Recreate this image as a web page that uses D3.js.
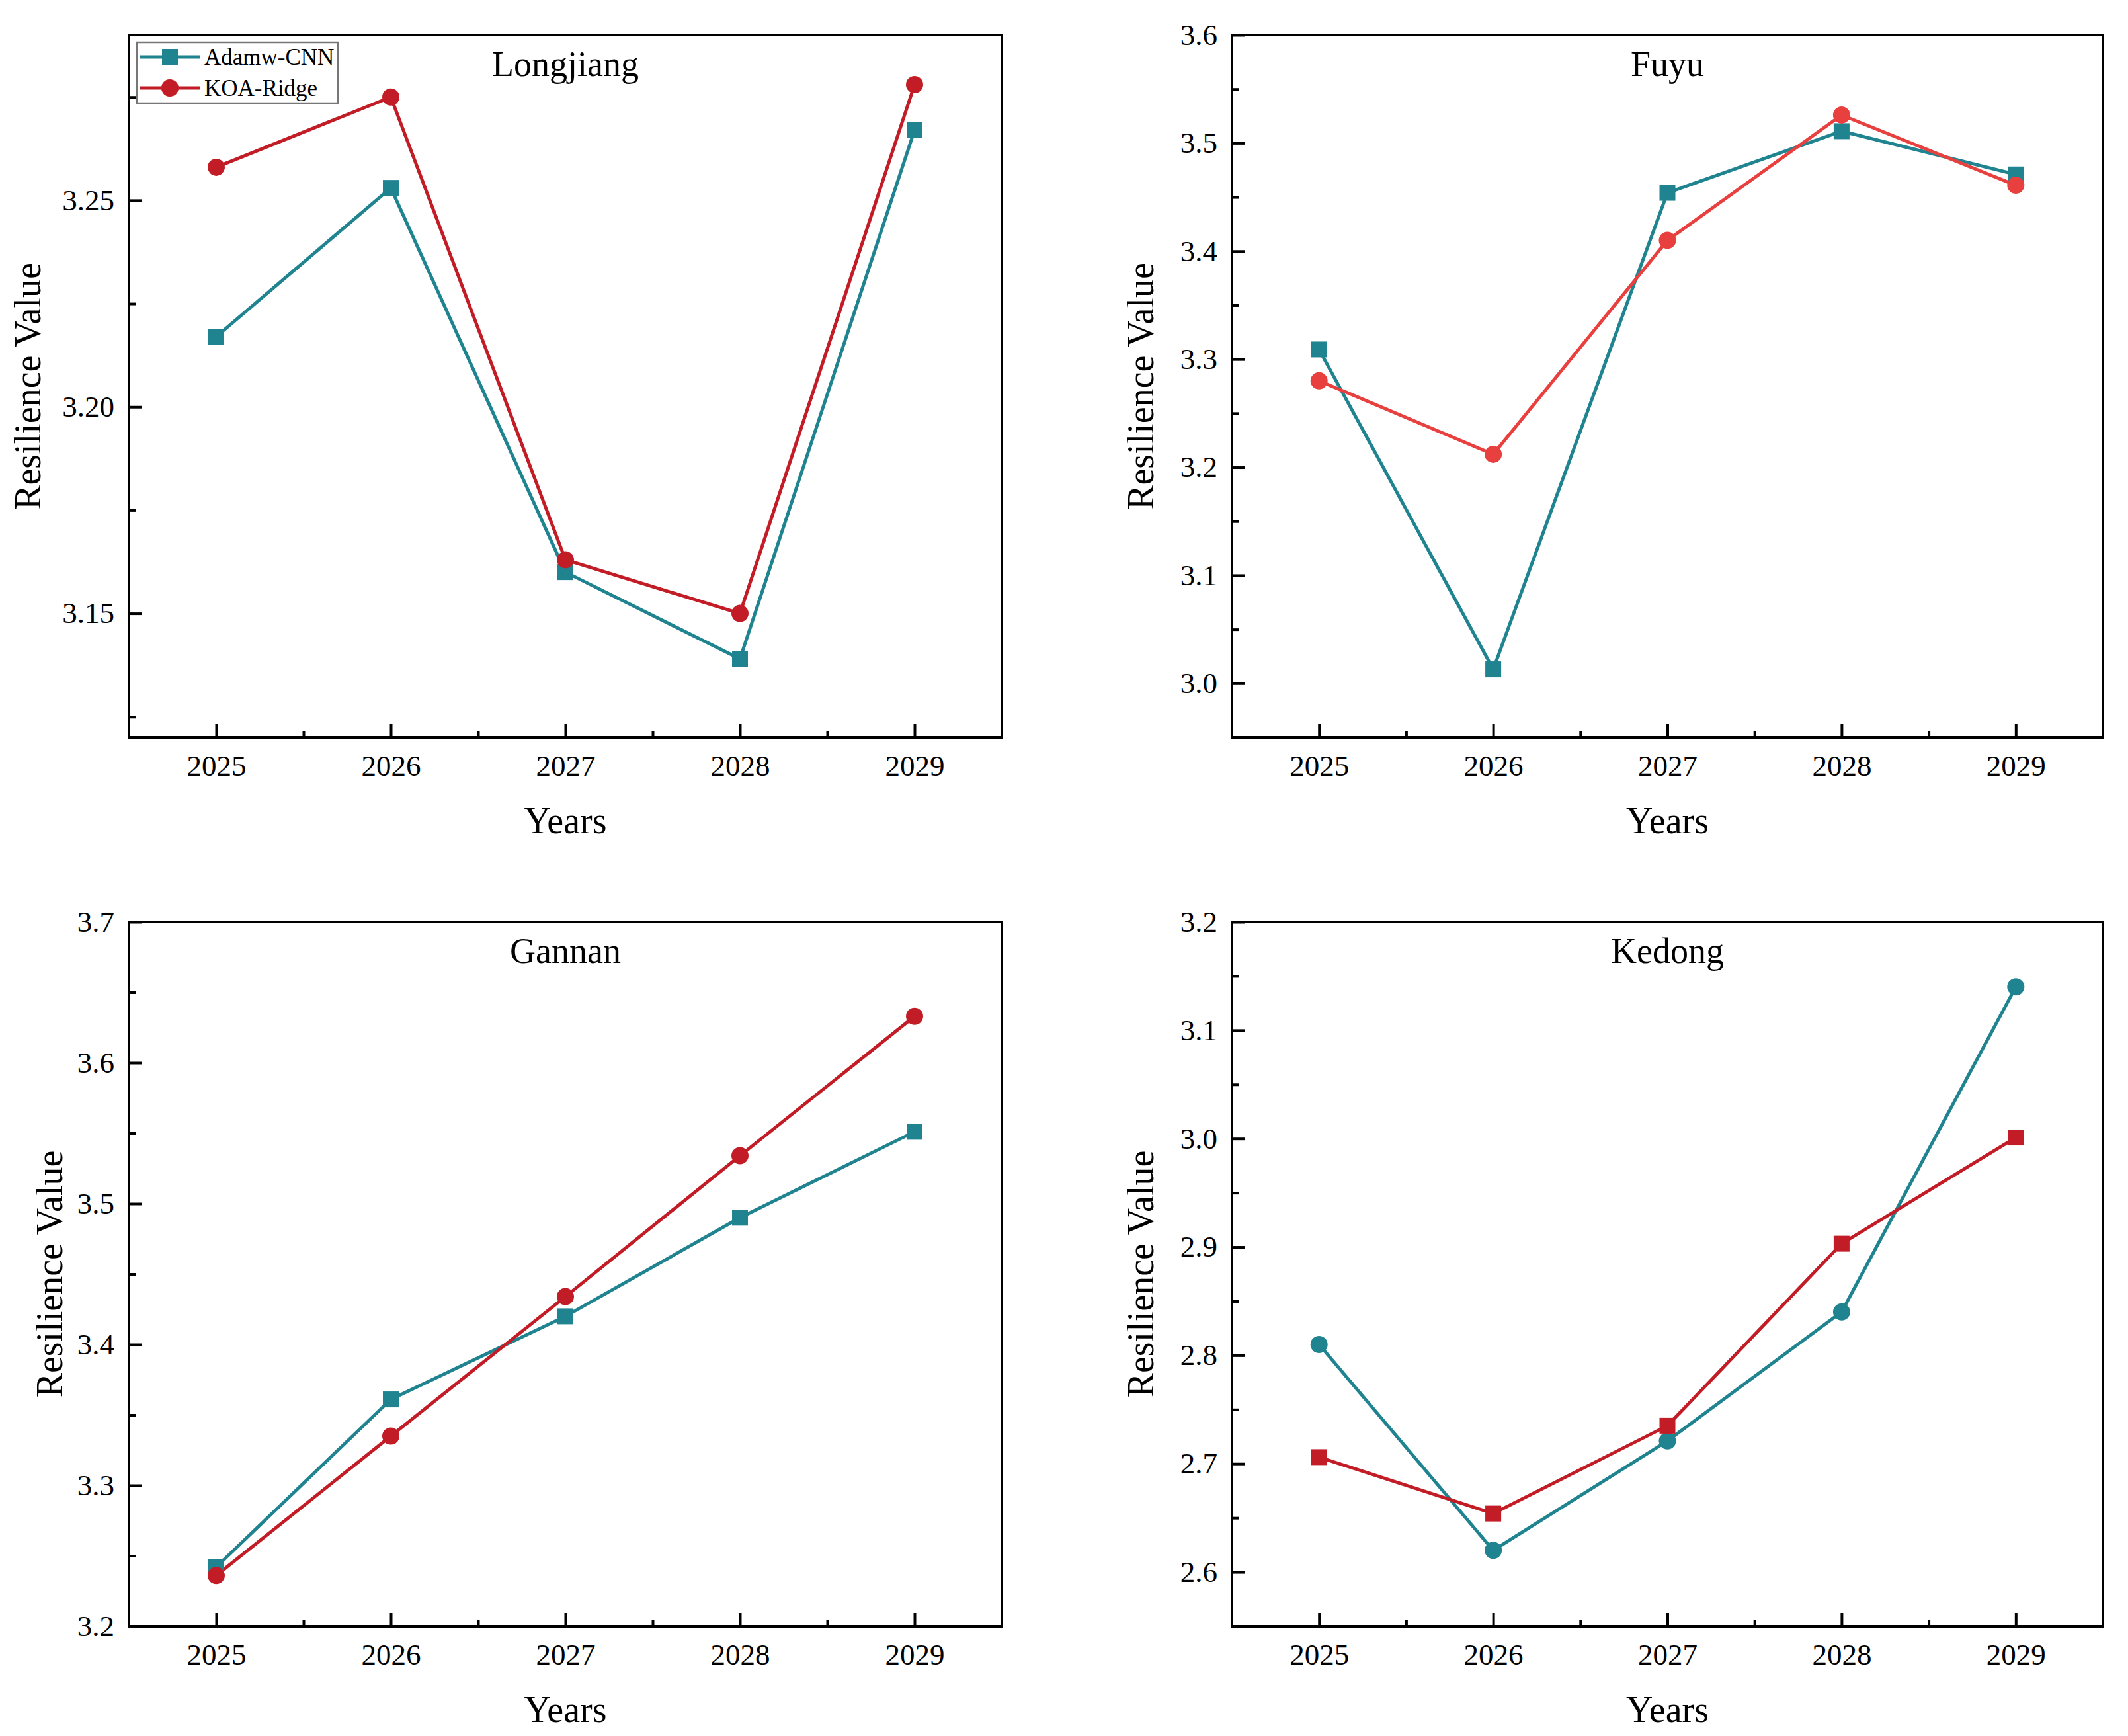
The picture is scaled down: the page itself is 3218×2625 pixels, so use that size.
<!DOCTYPE html>
<html><head><meta charset="utf-8">
<script src="https://cdn.jsdelivr.net/npm/d3@7"></script>
<style>html,body{margin:0;padding:0;background:#fff;}svg{display:block;} text{font-family:'Liberation Serif','Times New Roman',serif !important;}</style>
</head><body>
<script>
const years = [2025, 2026, 2027, 2028, 2029];
const seriesNames = ["Adamw-CNN", "KOA-Ridge"];
const panelNames = ["Longjiang", "Fuyu", "Gannan", "Kedong"];

const longjiangAdamw = [3.217, 3.253, 3.160, 3.139, 3.267];
const longjiangKoa   = [3.258, 3.275, 3.163, 3.150, 3.278];
const fuyuAdamw      = [3.309, 3.013, 3.454, 3.511, 3.471];
const fuyuKoa        = [3.280, 3.212, 3.410, 3.526, 3.461];
const gannanAdamw    = [3.242, 3.361, 3.420, 3.490, 3.551];
const gannanKoa      = [3.236, 3.335, 3.434, 3.534, 3.633];
const kedongAdamw    = [2.810, 2.620, 2.721, 2.840, 3.140];
const kedongKoa      = [2.706, 2.654, 2.735, 2.903, 3.001];

const longjiangTicks = [3.15, 3.20, 3.25];
const fuyuTicks      = [3.0, 3.1, 3.2, 3.3, 3.4, 3.5, 3.6];
const gannanTicks    = [3.2, 3.3, 3.4, 3.5, 3.6, 3.7];
const kedongTicks    = [2.6, 2.7, 2.8, 2.9, 3.0, 3.1, 3.2];

const longjiangDomain = [3.12, 3.29];
const fuyuDomain      = [2.95, 3.6];
const gannanDomain    = [3.2, 3.7];
const kedongDomain    = [2.55, 3.2];

// ---- styling / layout ----
const W = 3218, H = 2625;
const TEAL = "#1f8490", RED = "#c21d26", LIGHTRED = "#e8403e";
const FONT = "'Liberation Serif','Times New Roman',serif";

const panels = [
  {name: panelNames[0], a: longjiangAdamw, k: longjiangKoa, ticks: longjiangTicks, dom: longjiangDomain, fmt: ".2f", step: 0.05,
   x0: 195, x1: 1515, y0: 53, y1: 1115, ytOff: 154, aMark: "square", kMark: "circle", kColor: RED, legend: true},
  {name: panelNames[1], a: fuyuAdamw, k: fuyuKoa, ticks: fuyuTicks, dom: fuyuDomain, fmt: ".1f", step: 0.1,
   x0: 1863, x1: 3180, y0: 53, y1: 1115, ytOff: 139, aMark: "square", kMark: "circle", kColor: LIGHTRED},
  {name: panelNames[2], a: gannanAdamw, k: gannanKoa, ticks: gannanTicks, dom: gannanDomain, fmt: ".1f", step: 0.1,
   x0: 195, x1: 1515, y0: 1394, y1: 2459, ytOff: 121, aMark: "square", kMark: "circle", kColor: RED},
  {name: panelNames[3], a: kedongAdamw, k: kedongKoa, ticks: kedongTicks, dom: kedongDomain, fmt: ".1f", step: 0.1,
   x0: 1863, x1: 3180, y0: 1394, y1: 2459, ytOff: 139, aMark: "circle", kMark: "square", kColor: RED}
];

const svg = d3.select("body").append("svg").attr("width", W).attr("height", H)
  .style("font-family", FONT);
svg.append("rect").attr("width", W).attr("height", H).attr("fill", "#fff");

function drawMarker(g, type, x, y, color) {
  if (type === "square") {
    g.append("rect").attr("x", x - 12).attr("y", y - 12).attr("width", 24).attr("height", 24).attr("fill", color);
  } else {
    g.append("circle").attr("cx", x).attr("cy", y).attr("r", 13).attr("fill", color);
  }
}

panels.forEach(p => {
  const g = svg.append("g");
  const x = d3.scaleLinear().domain([years[0] - 0.5, years[years.length - 1] + 0.5]).range([p.x0, p.x1]);
  const y = d3.scaleLinear().domain(p.dom).range([p.y1, p.y0]);

  const xMinor = d3.range(years[0] + 0.5, years[years.length - 1], 1);
  const yMinor = p.ticks.map(t => t - p.step / 2).concat([p.ticks[p.ticks.length - 1] + p.step / 2])
    .filter(v => v > p.dom[0] + 1e-9 && v < p.dom[1] - 1e-9);

  const xAxis = d3.axisBottom(x).tickValues(years).tickFormat(d3.format("d")).tickSizeInner(-20).tickSizeOuter(0).tickPadding(26);
  const gx = g.append("g").attr("transform", `translate(0,${p.y1})`).call(xAxis).attr("font-family", FONT);
  gx.select(".domain").remove();
  gx.selectAll("line").attr("stroke", "#000").attr("stroke-width", 4);
  gx.selectAll("text").attr("font-size", 45).attr("font-family", FONT).attr("fill", "#000");

  const gxm = g.append("g").attr("transform", `translate(0,${p.y1})`)
    .call(d3.axisBottom(x).tickValues(xMinor).tickFormat("").tickSizeInner(-10).tickSizeOuter(0));
  gxm.select(".domain").remove();
  gxm.selectAll("line").attr("stroke", "#000").attr("stroke-width", 4);

  const yAxis = d3.axisLeft(y).tickValues(p.ticks).tickFormat(d3.format(p.fmt)).tickSizeInner(-20).tickSizeOuter(0).tickPadding(22);
  const gy = g.append("g").attr("transform", `translate(${p.x0},0)`).call(yAxis).attr("font-family", FONT);
  gy.select(".domain").remove();
  gy.selectAll("line").attr("stroke", "#000").attr("stroke-width", 4);
  gy.selectAll("text").attr("font-size", 45).attr("font-family", FONT).attr("fill", "#000");

  const gym = g.append("g").attr("transform", `translate(${p.x0},0)`)
    .call(d3.axisLeft(y).tickValues(yMinor).tickFormat("").tickSizeInner(-10).tickSizeOuter(0));
  gym.select(".domain").remove();
  gym.selectAll("line").attr("stroke", "#000").attr("stroke-width", 4);

  g.append("rect").attr("x", p.x0).attr("y", p.y0).attr("width", p.x1 - p.x0).attr("height", p.y1 - p.y0)
    .attr("fill", "none").attr("stroke", "#000").attr("stroke-width", 4);

  g.append("text").attr("x", (p.x0 + p.x1) / 2).attr("y", p.y0 + 62).attr("text-anchor", "middle")
    .attr("font-size", 54).attr("fill", "#000").text(p.name);
  g.append("text").attr("x", (p.x0 + p.x1) / 2).attr("y", p.y1 + 145).attr("text-anchor", "middle")
    .attr("font-size", 56).attr("fill", "#000").text("Years");
  g.append("text").attr("transform", `translate(${p.x0 - p.ytOff},${(p.y0 + p.y1) / 2}) rotate(-90)`)
    .attr("text-anchor", "middle").attr("dy", "0.35em")
    .attr("font-size", 56).attr("fill", "#000").text("Resilience Value");

  const line = d3.line().x((d, i) => x(years[i])).y(d => y(d));
  const series = [
    {vals: p.a, color: TEAL, mark: p.aMark},
    {vals: p.k, color: p.kColor, mark: p.kMark}
  ];
  series.forEach(s => {
    g.append("path").datum(s.vals).attr("d", line).attr("fill", "none")
      .attr("stroke", s.color).attr("stroke-width", 5).attr("stroke-linejoin", "round");
  });
  series.forEach(s => {
    s.vals.forEach((v, i) => drawMarker(g, s.mark, x(years[i]), y(v), s.color));
  });

  if (p.legend) {
    const lg = g.append("g");
    lg.append("rect").attr("x", p.x0 + 12).attr("y", p.y0 + 11).attr("width", 304).attr("height", 92)
      .attr("fill", "#fff").attr("stroke", "#777").attr("stroke-width", 2.5);
    series.forEach((s, i) => {
      const cy = p.y0 + 33 + i * 47;
      lg.append("line").attr("x1", p.x0 + 16).attr("x2", p.x0 + 108).attr("y1", cy).attr("y2", cy)
        .attr("stroke", s.color).attr("stroke-width", 5);
      drawMarker(lg, s.mark, p.x0 + 62, cy, s.color);
      lg.append("text").attr("x", p.x0 + 114).attr("y", cy).attr("dy", "0.35em")
        .attr("font-size", 35).attr("fill", "#000").text(seriesNames[i]);
    });
  }
});
</script>
</body></html>
